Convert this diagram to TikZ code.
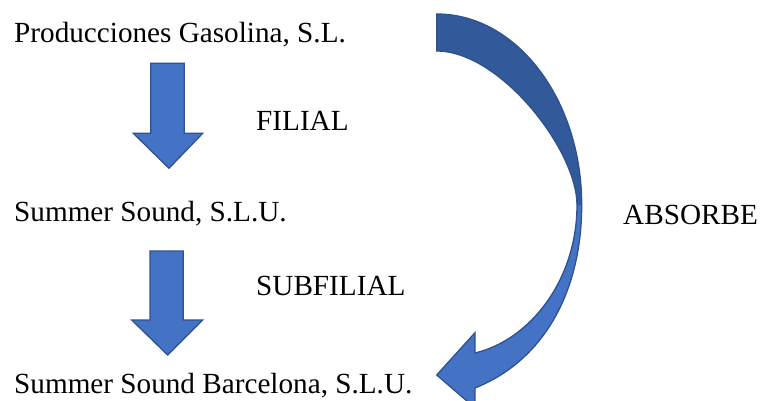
\documentclass[tikz,border=0pt]{standalone}
\usepackage{fontspec}
\setmainfont{Liberation Serif}
\definecolor{arrowfill}{HTML}{4472C4}
\definecolor{arrowdark}{RGB}{50,89,154}
\definecolor{arrowline}{HTML}{2F528F}
\begin{document}
\begin{tikzpicture}[x=1pt,y=-1pt,
  lbl/.style={anchor=base west,inner sep=0pt,font=\fontsize{29.2}{35}\selectfont},
  blockarrow/.style={fill=arrowfill,draw=arrowline,line width=1.3pt,line join=miter}]
\useasboundingbox (0,0) rectangle (760,401);
% text
\node[lbl] (pg) at (14,43) {Producciones Gasolina, S.L.};
\node[lbl] (ss) at (14,221) {Summer Sound, S.L.U.};
\node[lbl] (ssb) at (14,393) {Summer Sound Barcelona, S.L.U.};
\node[lbl] (fil) at (256,131) {FILIAL};
\node[lbl] (sub) at (256,295) {SUBFILIAL};
\node[lbl] (abs) at (623,224) {ABSORBE};
% block arrows
\draw[blockarrow] (150.7,63.3) -- (184.3,63.3) -- (184.3,133.3) -- (202.7,133.3)
  -- (169,168.3) -- (133.3,133.3) -- (150.7,133.3) -- cycle;
\draw[blockarrow] (150,251) -- (183.3,251) -- (183.3,320) -- (202.7,320)
  -- (167.7,355) -- (131.7,320) -- (150,320) -- cycle;
% curved arrow
\fill[arrowfill] (436.7,14) .. controls (516.7,14) and (581.7,99.6) .. (581.7,205)
  .. controls (581.7,290) and (545,360) .. (475,388)
  -- (475,408) -- (436.7,375) -- (475,332.7) -- (475,353)
  .. controls (530,340) and (577,280) .. (577,205)
  .. controls (577,150) and (500,51) .. (436.7,51) -- cycle;
\fill[arrowdark] (436.7,14) .. controls (516.7,14) and (581.7,99.6) .. (581.7,205)
  -- (577,205) .. controls (577,150) and (500,51) .. (436.7,51) -- cycle;
\draw[arrowline,line width=1.3pt,line join=miter] (436.7,14) .. controls (516.7,14) and (581.7,99.6) .. (581.7,205)
  .. controls (581.7,290) and (545,360) .. (475,388)
  -- (475,408) -- (436.7,375) -- (475,332.7) -- (475,353)
  .. controls (530,340) and (577,280) .. (577,205)
  .. controls (577,150) and (500,51) .. (436.7,51) -- cycle;
\end{tikzpicture}
\end{document}
